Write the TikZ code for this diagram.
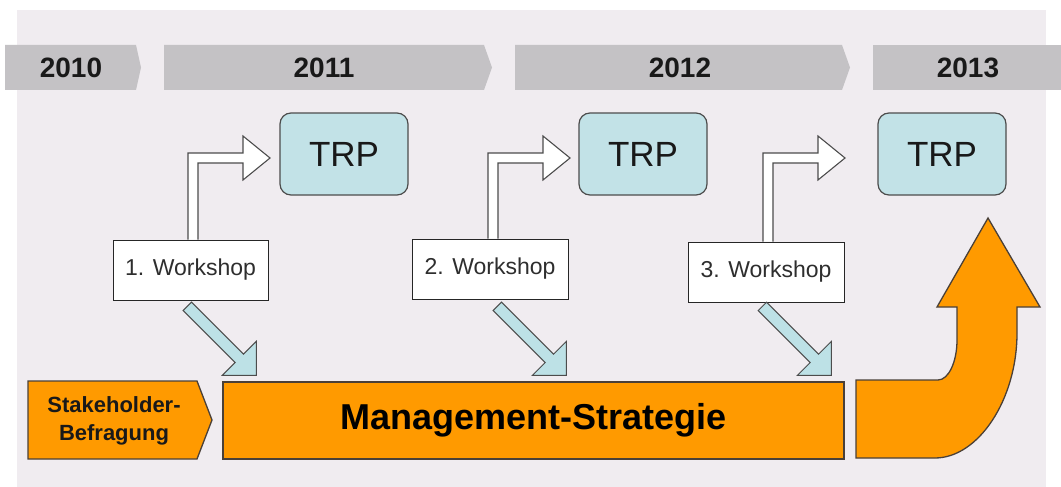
\documentclass[tikz,border=0pt]{standalone}
\usepackage{fontspec}
\setmainfont{Liberation Sans}
\usetikzlibrary{calc}

\definecolor{panel}{HTML}{F0ECF0}
\definecolor{yearbar}{HTML}{C4C2C5}
\definecolor{orangefill}{HTML}{FF9A00}
\definecolor{edgedark}{HTML}{4A4038}
\definecolor{trpfill}{HTML}{C2E2E7}
\definecolor{cyanarrow}{HTML}{BDE1E6}
\definecolor{textgray}{HTML}{2E2E2E}

\tikzset{
  yeartext/.style={font=\bfseries\fontsize{28}{32}\selectfont, text=black!90, inner sep=0pt},
  trpbox/.style={draw=black!70, line width=1.2pt, fill=trpfill, rounded corners=11pt,
    minimum width=128pt, minimum height=82pt, inner sep=0pt,
    font=\fontsize{35}{40}\selectfont, text=black!90},
  workshopbox/.style={draw=black!85, line width=1pt, fill=white,
    minimum width=156pt, minimum height=60pt, inner sep=0pt,
    font=\fontsize{23}{27}\selectfont, text=textgray},
  orangebox/.style={draw=edgedark, line width=1.3pt, fill=orangefill},
  hollowarrow/.style={draw=black!70, line width=1.1pt, fill=white, line join=miter},
  cyanarrowstyle/.style={draw=black!70, line width=1pt, fill=cyanarrow, line join=miter},
}

% bent hollow arrow rising from a workshop box towards its TRP box
\newcommand\bentarrow[2]{%
  \draw[hollowarrow] (#1 |- #2.north) -- (#1) -- ++(55,0) -- ++(0,-17) -- ++(27,22)
    -- ++(-27,22) -- ++(0,-17) -- ++(-45,0) -- ($(#1 |- #2.north)+(10,0)$);}

% straight 45-degree block arrow, tip at coordinate #1
\newcommand\diagarrow[1]{%
  \draw[cyanarrowstyle] ($(#1)+(-64.8,-73.2)$) -- ($(#1)+(-12.8,-21.2)$) -- ($(#1)+(0,-34)$)
    -- (#1) -- ($(#1)+(-34,0)$) -- ($(#1)+(-21.2,-12.8)$) -- ($(#1)+(-73.2,-64.8)$) -- cycle;}

\begin{document}
\begin{tikzpicture}[x=1pt,y=-1pt]
\useasboundingbox (0,0) rectangle (1061,487);
\fill[white] (0,0) rectangle (1061,487);
\fill[panel] (17,10) rectangle (1046,487);

% timeline of years
\fill[yearbar] (5,45) -- (136,45) -- (141,67.5) -- (136,90) -- (5,90) -- cycle;
\fill[yearbar] (164,45) -- (484,45) -- (492,67.5) -- (484,90) -- (164,90) -- cycle;
\fill[yearbar] (515,45) -- (842,45) -- (850,67.5) -- (842,90) -- (515,90) -- cycle;
\fill[yearbar] (873,45) -- (1061,45) -- (1061,90) -- (873,90) -- cycle;
\node[yeartext] (y2010) at (71,68) {2010};
\node[yeartext] (y2011) at (324,68) {2011};
\node[yeartext] (y2012) at (680,68) {2012};
\node[yeartext] (y2013) at (968,68) {2013};

% TRP boxes
\node[trpbox] (trp1) at (344,154) {TRP};
\node[trpbox] (trp2) at (643,154) {TRP};
\node[trpbox] (trp3) at (942,154) {TRP};

% bottom row: survey and strategy
\node[inner sep=0pt, minimum width=621pt, minimum height=77pt, orangebox,
      font=\bfseries\fontsize{36}{40}\selectfont, text=black] (mgmt) at (533.5,420.5) {Management-Strategie};
\draw[orangebox] (28,381) -- (197,381) -- (212,420) -- (197,459) -- (28,459) -- cycle;
\node[font=\bfseries\fontsize{22}{28}\selectfont, align=center, text=black!90, inner sep=0pt]
  (stake) at (114,421) {Stakeholder-\\Befragung};

% rising arrow towards 2013
\draw[orangebox] (856,380) -- (938,380) .. controls (948.5,380) and (957,362) .. (957,340)
  -- (957,307) -- (937,307) -- (988,218) -- (1040,307) -- (1017,307) -- (1017,333)
  .. controls (1017,400) and (978,458) .. (935,458) -- (856,458) -- cycle;

% workshops and their links
\coordinate (b1) at (188,153);
\coordinate (b2) at (488,153);
\coordinate (b3) at (763,153);
\node[workshopbox, minimum width=155pt] (w1) at (190.5,270) {};
\node[workshopbox] (w2) at (490,269) {};
\node[workshopbox] (w3) at (766,272) {};
\bentarrow{b1}{w1}
\bentarrow{b2}{w2}
\bentarrow{b3}{w3}
\node[workshopbox, minimum width=155pt] (w1text) at (w1) {1. Workshop};
\node[workshopbox] (w2text) at (w2) {2. Workshop};
\node[workshopbox] (w3text) at (w3) {3. Workshop};

\coordinate (t1) at ($(mgmt.north west)+(34,-6)$);
\coordinate (t2) at ($(mgmt.north west)+(344,-6)$);
\coordinate (t3) at ($(mgmt.north west)+(609,-6)$);
\diagarrow{t1}
\diagarrow{t2}
\diagarrow{t3}
\end{tikzpicture}
\end{document}
